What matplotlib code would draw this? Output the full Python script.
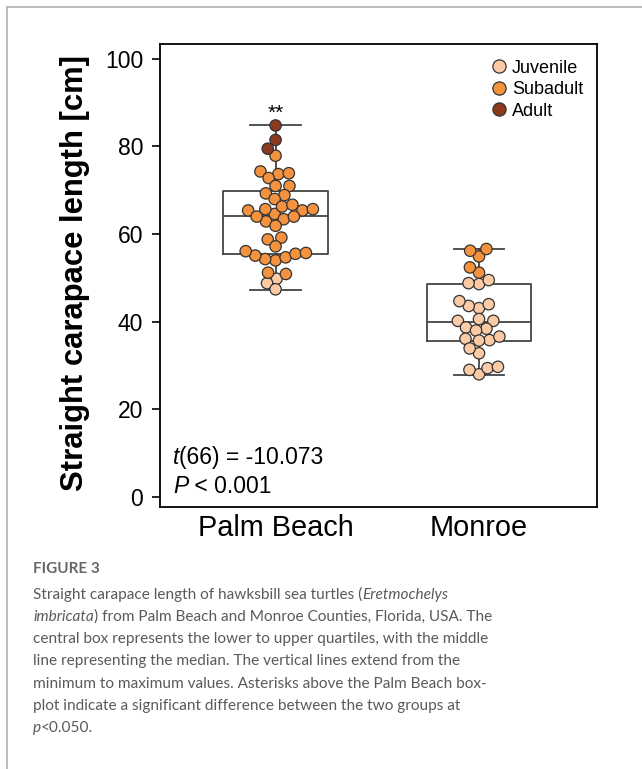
import matplotlib
matplotlib.use("Agg")
import numpy as np
import matplotlib.pyplot as plt
from matplotlib.lines import Line2D

# data
sites = ["Palm Beach", "Monroe"]
stages = ["Juvenile", "Subadult", "Adult"]
stage_colors = ["#FCCBA6", "#F5923E", "#8B3A1E"]

pb_juvenile = [49.8, 48.8, 47.4]
pb_subadult = [77.9, 73.7, 73.9, 74.3, 72.8, 71.0, 71.0, 68.9, 69.3, 68.0,
               64.6, 65.4, 65.4, 65.7, 65.7, 66.3, 66.7, 62.9, 63.4, 64.0,
               64.0, 61.9, 58.8, 59.2, 57.2, 54.0, 54.3, 54.7, 55.1, 55.5,
               55.7, 56.1, 50.9, 51.2]
pb_adult = [84.8, 81.5, 79.5]

mo_juvenile = [48.6, 48.8, 49.5, 43.1, 43.6, 44.0, 44.7, 40.2, 40.2, 40.6,
               38.4, 38.7, 38.0, 36.1, 35.8, 35.7, 36.6, 32.8, 33.9, 28.0,
               29.0, 29.4, 29.7]
mo_subadult = [54.9, 56.2, 56.6, 51.2, 52.4]

# box stats: min, q1, median, q3, max
pb_box = [47.3, 55.5, 64.2, 69.9, 84.8]
mo_box = [27.9, 35.7, 39.9, 48.5, 56.5]

t_text = "(66) = -10.073"
p_text = " < 0.001"

groups = [
    [pb_juvenile, pb_subadult, pb_adult],
    [mo_juvenile, mo_subadult, []],
]

W, H = 642, 769
fig = plt.figure(figsize=(W / 100, H / 100), dpi=100)
plt.rcParams['font.family'] = ['Liberation Sans', 'DejaVu Sans']

ax = fig.add_axes([160 / W, 1 - 507 / H, 437 / W, 463 / H])
ax.set_xlim(-0.568, 1.58)
ax.set_ylim(-2.3, 103.4)

stats = []
for name, b in zip(sites, [pb_box, mo_box]):
    stats.append({"label": name, "whislo": b[0], "q1": b[1], "med": b[2],
                  "q3": b[3], "whishi": b[4], "fliers": []})
line_kw = dict(color="#444444", linewidth=1.3)
ax.bxp(stats, positions=[0, 1], widths=0.516, capwidths=0.25,
       showfliers=False, boxprops=line_kw, whiskerprops=line_kw,
       capprops=line_kw, medianprops=line_kw, zorder=1)

# pixel scale of the axes, used for the beeswarm layout
x_scale = 437 / (1.58 + 0.568)
y_scale = 463 / (103.4 + 2.3)
gap = 10.5  # px between point centres


def swarm(values):
    order = np.argsort(values)
    placed = []
    offs = np.zeros(len(values))
    for i in order:
        y = values[i] * y_scale
        cands = [0.0]
        for (px, py) in placed:
            dy = y - py
            if abs(dy) < gap:
                dx = np.sqrt(gap ** 2 - dy ** 2)
                cands += [px + dx, px - dx]
        cands.sort(key=lambda c: (abs(c), c))
        for c in cands:
            ok = all((c - px) ** 2 + (y - py) ** 2 >= gap ** 2 - 1e-6
                     for (px, py) in placed)
            if ok:
                break
        placed.append((c, y))
        offs[i] = c / x_scale
    return offs


for pos, stage_lists in enumerate(groups):
    vals = np.concatenate([np.asarray(v, float) for v in stage_lists])
    cols = sum([[c] * len(v) for c, v in zip(stage_colors, stage_lists)], [])
    xs = pos + swarm(vals)
    ax.scatter(xs, vals, s=8.2 ** 2, c=cols, edgecolors="#333333",
               linewidths=0.9, zorder=3)

ax.set_yticks([0, 20, 40, 60, 80, 100])
ax.set_xticks([0, 1])
ax.set_xticklabels(sites, fontsize=20.8)
ax.tick_params(axis="x", length=0, pad=5)
ax.tick_params(axis="y", length=6, width=1.2, labelsize=16.5, pad=6)
for s in ax.spines.values():
    s.set_linewidth(1.3)
    s.set_color("black")
ax.set_ylabel("Straight carapace length [cm]", fontsize=22.3, fontweight="bold")
ax.yaxis.set_label_coords(-0.16, 0.506)

ax.annotate("**", xy=(0, pb_box[4]), xytext=(0, 2), textcoords="offset points",
            ha="center", va="bottom", fontsize=15)

handles = [Line2D([], [], marker="o", linestyle="", markersize=9.5,
                  markerfacecolor=c, markeredgecolor="#333333",
                  markeredgewidth=0.9) for c in stage_colors]
ax.legend(handles, stages, loc="upper right", bbox_to_anchor=(0.985, 0.982),
          frameon=False, fontsize=13, handletextpad=0.1, labelspacing=0.25,
          borderaxespad=0, handlelength=1.2)

renderer = fig.canvas.get_renderer()


def draw_segments(x_px, y_px, segments, **kw):
    x = x_px
    for s, style in segments:
        t = fig.text(x / W, 1 - y_px / H, s, style=style, ha="left",
                     va="baseline", **kw)
        x += t.get_window_extent(renderer).width


draw_segments(173, 464, [("t", "italic"), (t_text, "normal")], fontsize=16.5)
draw_segments(173, 493, [("P", "italic"), (p_text, "normal")], fontsize=16.5)

# frame lines
fig.add_artist(Line2D([7 / W, 1], [1 - 7 / H, 1 - 7 / H], color="#b0b0b0",
                      linewidth=1.2))
fig.add_artist(Line2D([7 / W, 7 / W], [0, 1 - 7 / H], color="#b0b0b0",
                      linewidth=1.2))

# caption
cap_kw = dict(fontsize=11.1, color="#5a5a5a", family=["Lato", "DejaVu Sans"])
fig.text(33 / W, 1 - 573 / H, "FIGURE 3", ha="left", va="baseline",
         fontsize=11, color="#666666", family=["Lato", "DejaVu Sans"],
         fontweight="bold")
caption = [
    [("Straight carapace length of hawksbill sea turtles (", "normal"),
     ("Eretmochelys", "italic")],
    [("imbricata", "italic"),
     (") from Palm Beach and Monroe Counties, Florida, USA. The", "normal")],
    [("central box represents the lower to upper quartiles, with the middle", "normal")],
    [("line representing the median. The vertical lines extend from the", "normal")],
    [("minimum to maximum values. Asterisks above the Palm Beach box-", "normal")],
    [("plot indicate a significant difference between the two groups at", "normal")],
    [("p", "italic"), ("<0.050.", "normal")],
]
for i, segs in enumerate(caption):
    draw_segments(33, 598.5 + i * 22.3, segs, **cap_kw)

fig.savefig("out.png", dpi=100)
